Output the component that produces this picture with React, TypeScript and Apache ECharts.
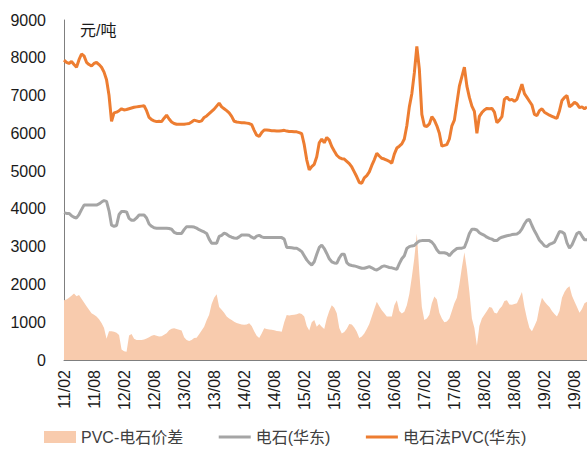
import React, { useEffect, useRef } from "react";
import * as echarts from "echarts";

// Semi-monthly categories, Feb 2011 (first half) .. Oct 2019 (second half)
const categories: string[] = [];
for (let y = 2011; y <= 2019; y++) {
  for (let m = 1; m <= 12; m++) {
    if (y === 2011 && m < 2) continue;
    if (y === 2019 && m > 10) continue;
    const yy = String(y).slice(2);
    const mm = m < 10 ? "0" + m : String(m);
    categories.push(`${yy}/${mm}-1`);
    categories.push(`${yy}/${mm}-2`);
  }
}

const yTicks = [0, 1000, 2000, 3000, 4000, 5000, 6000, 7000, 8000, 9000];

const pvcPrice = [
  7940, 7880, 7850, 7900, 7820, 7750, 7950, 8100, 8050, 7880,
  7820, 7780, 7850, 7880, 7820, 7750, 7620, 7420, 7000, 6320,
  6540, 6560, 6600, 6650, 6620, 6630, 6650, 6670, 6690, 6700,
  6710, 6720, 6730, 6600, 6420, 6360, 6330, 6310, 6320, 6310,
  6400, 6480, 6380, 6300, 6260, 6240, 6240, 6240, 6240, 6250,
  6260, 6300, 6350, 6330, 6310, 6330, 6420, 6460, 6520, 6580,
  6640, 6720, 6800, 6700, 6650, 6600, 6540, 6450, 6320, 6300,
  6290, 6280, 6280, 6270, 6260, 6230, 6080, 5950, 5920, 6020,
  6090, 6090, 6080, 6070, 6070, 6060, 6060, 6070, 6080, 6060,
  6050, 6050, 6040, 6040, 6020, 5990, 5700, 5300, 5030, 5120,
  5180, 5380, 5750, 5850, 5750, 5890, 5820, 5650, 5530, 5420,
  5360, 5330, 5320, 5260, 5200, 5110, 4980, 4850, 4700, 4680,
  4820, 4880, 4980, 5150, 5300, 5470, 5400, 5340, 5320, 5290,
  5260, 5210, 5450, 5610, 5660, 5720, 5850, 6200, 6700, 7050,
  7600, 8300, 7700, 6500, 6200, 6180, 6250, 6440, 6350, 6200,
  6000, 5660, 5680, 5700, 5850, 6200, 6350, 6800, 7250, 7500,
  7750, 7250, 6950, 6720, 6580, 6000, 6450, 6550, 6620, 6660,
  6650, 6660, 6560, 6280, 6350, 6440, 6900, 6960, 6880, 6900,
  6850, 6900, 7100, 7300, 7050, 6950, 6850, 6750, 6500, 6470,
  6600, 6650, 6560, 6520, 6480, 6450, 6420, 6400, 6600, 6870,
  6950, 7000, 6700, 6750, 6820, 6780, 6680, 6700, 6650, 6700,
];

const carbidePrice = [
  3900, 3880, 3880, 3820, 3780, 3760, 3850, 3980, 4100, 4100,
  4100, 4100, 4100, 4100, 4130, 4180, 4220, 4200, 3950, 3570,
  3540, 3560, 3850, 3930, 3930, 3920, 3750, 3700, 3700, 3760,
  3840, 3840, 3840, 3760, 3600, 3540, 3500, 3490, 3490, 3490,
  3490, 3490, 3480, 3460, 3380, 3350, 3350, 3350, 3450, 3530,
  3530, 3530, 3520, 3490, 3450, 3420, 3390, 3350, 3200, 3090,
  3090, 3090, 3270, 3300, 3360, 3330, 3280, 3250, 3230, 3220,
  3260, 3310, 3310, 3310, 3300, 3250, 3220, 3280, 3300, 3260,
  3240, 3240, 3240, 3240, 3240, 3240, 3240, 3240, 3200, 2980,
  2980, 2970, 2960, 2960, 2920, 2870, 2760, 2650, 2570, 2515,
  2600, 2800, 2980, 3040, 2950, 2820, 2680, 2600, 2570, 2560,
  2700, 2800, 2800, 2580, 2520, 2500, 2490, 2470, 2450, 2430,
  2430, 2450, 2470, 2440, 2400, 2380, 2420, 2470, 2490, 2470,
  2450, 2440, 2420, 2400, 2550, 2680, 2760, 2950, 3000, 3020,
  3030, 3100, 3150, 3160, 3160, 3160, 3160, 3120, 3040, 2920,
  2840, 2840, 2840, 2820, 2760, 2840, 2900, 2950, 2960, 2960,
  2980, 3150, 3350, 3460, 3460, 3440, 3370, 3330, 3300, 3250,
  3220, 3200, 3160, 3160, 3220, 3250, 3270, 3290, 3300, 3320,
  3330, 3335, 3380, 3470, 3600, 3700, 3720, 3560, 3420, 3300,
  3170, 3100, 3020, 3000, 3060, 3090, 3120, 3260, 3400, 3390,
  3340, 3100, 2960, 3050, 3200, 3350, 3390, 3280, 3180, 3180,
];

const spread = [
  1580, 1600, 1650, 1700, 1760, 1690, 1720, 1620, 1520, 1420,
  1330, 1240, 1200, 1150, 1080, 980, 850, 560, 760, 760,
  750, 720, 660, 280, 230, 220, 650, 690, 560, 530,
  530, 530, 540, 570, 600, 640, 660, 640, 620, 630,
  670, 710, 790, 830, 840, 820, 800, 780, 600, 530,
  500, 530, 580, 590, 680, 780, 880, 1050, 1200, 1480,
  1650, 1740, 1400, 1330, 1250, 1150, 1100, 1060, 1010, 980,
  960, 940, 930, 940, 970, 900, 760, 640, 580, 700,
  840, 820, 810, 800, 790, 770, 760, 750, 1000, 1190,
  1180, 1190, 1200, 1210, 1240, 1220, 1150, 900, 780, 1000,
  1060, 880, 950, 880, 820, 1100, 1300, 1450, 1380, 1240,
  850, 700, 740, 830, 950, 940, 860, 750, 580, 620,
  700, 820, 950, 1150, 1350, 1540, 1420, 1320, 1240, 1150,
  1150, 1150, 1450, 1580, 1300, 1230, 1280, 1450, 1750, 2200,
  2700, 3350, 2300, 1400, 1060, 1100, 1200, 1500, 1680, 1600,
  1250, 1100, 1000, 1020, 1100, 1300, 1500, 1650, 2000, 2450,
  2850, 2400, 1800, 1100, 850, 380, 900, 1100, 1200, 1300,
  1400, 1380, 1250, 1230, 1350, 1420, 1560, 1580, 1470, 1460,
  1480, 1500, 1650, 1800, 1400, 1100, 850, 760, 900, 1050,
  1400, 1650, 1550, 1470, 1400, 1300, 1220, 1150, 1300, 1650,
  1800, 1900, 1950, 1700, 1550, 1400, 1250, 1350, 1500, 1540,
];

const seriesNames = ["PVC-电石价差", "电石(华东)", "电石法PVC(华东)"];
const unitLabel = "元/吨";

const FONT = "'Liberation Sans', Arial, 'Noto Sans CJK SC', sans-serif";

export default function App() {
  const ref = useRef<HTMLDivElement>(null);
  useEffect(() => {
    if (!ref.current) return;
    const chart = echarts.init(ref.current, null, { renderer: "svg" });
    chart.setOption({
      animation: false,
      backgroundColor: "#ffffff",
      textStyle: { fontFamily: FONT },
      grid: { left: 64, right: 0, top: 20, bottom: 93, containLabel: false },
      legend: {
        bottom: 3,
        left: 39,
        itemWidth: 32,
        itemHeight: 12,
        itemGap: 34,
        textStyle: { fontSize: 16, color: "#404040", fontFamily: FONT },
        data: [
          { name: seriesNames[0], icon: "rect" },
          { name: seriesNames[1], itemStyle: { opacity: 0 }, lineStyle: { width: 3 } },
          { name: seriesNames[2], itemStyle: { opacity: 0 }, lineStyle: { width: 3 } },
        ],
      },
      graphic: [
        {
          type: "text",
          left: 80,
          top: 22,
          style: { text: unitLabel, fontSize: 16, fill: "#1a1a1a", fontFamily: FONT },
        },
      ],
      xAxis: {
        type: "category",
        data: categories,
        boundaryGap: false,
        axisLine: { show: true, lineStyle: { color: "#7f7f7f", width: 1 } },
        axisTick: { show: true, inside: true, length: 4, interval: 11, lineStyle: { color: "#333" } },
        axisLabel: {
          interval: 11,
          rotate: 90,
          margin: 10,
          fontSize: 16,
          color: "#1a1a1a",
          fontFamily: FONT,
          formatter: (v: string) => v.slice(0, 5),
        },
        splitLine: { show: false },
      },
      yAxis: {
        type: "value",
        min: yTicks[0],
        max: yTicks[yTicks.length - 1],
        interval: 1000,
        axisLine: { show: true, lineStyle: { color: "#7f7f7f", width: 1 } },
        axisTick: { show: false },
        axisLabel: {
          fontSize: 16,
          color: "#1a1a1a",
          margin: 18,
          fontFamily: FONT,
          formatter: (v: number) => String(v),
        },
        splitLine: { show: false },
      },
      series: [
        {
          name: seriesNames[0],
          type: "line",
          data: spread,
          symbol: "none",
          color: "#F8CBAD",
          lineStyle: { width: 0, color: "#F8CBAD" },
          areaStyle: { color: "#F8CBAD", opacity: 1 },
          z: 1,
        },
        {
          name: seriesNames[1],
          type: "line",
          data: carbidePrice,
          symbol: "none",
          color: "#A5A5A5",
          lineStyle: { width: 3, color: "#A5A5A5" },
          z: 2,
        },
        {
          name: seriesNames[2],
          type: "line",
          data: pvcPrice,
          symbol: "none",
          color: "#ED7D31",
          lineStyle: { width: 3, color: "#ED7D31" },
          z: 3,
        },
      ],
    });
    return () => chart.dispose();
  }, []);
  return (
    <div
      ref={ref}
      style={{ position: "fixed", left: 0, top: 0, width: 587, height: 453, background: "#fff" }}
    />
  );
}
